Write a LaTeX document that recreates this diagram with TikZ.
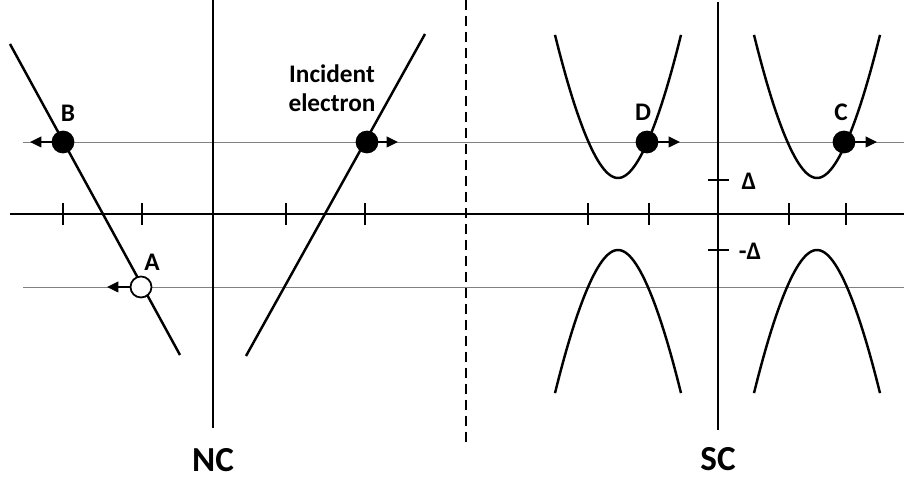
\documentclass[tikz,border=0pt]{standalone}
\usepackage{fontspec}
\setmainfont{Carlito}
\usetikzlibrary{arrows.meta, positioning}

\begin{document}
\begin{tikzpicture}[x=0.02cm, y=-0.02cm]
\tikzset{axis/.style={line width=1.6pt},
  band/.style={line width=1.4pt},
  level/.style={line width=0.5pt, gray},
  tick/.style={line width=1.2pt},
  dot/.style={circle, draw, fill=black, line width=1pt, minimum size=0.42cm, inner sep=0pt},
  hole/.style={dot, fill=white},
  move/.style={line width=1.2pt, -{Triangle[length=6.5pt,width=6pt]}},
  lbl/.style={font=\bfseries\fontsize{14.4}{16.4}\selectfont},
  big/.style={inner sep=0.5pt, font=\bfseries\fontsize{20}{24}\selectfont}}
\useasboundingbox (0,0) rectangle (904,479);
% energy levels and axes
\draw[level] (23,142) -- (904,142);
\draw[level] (23,287) -- (904,287);
\draw[axis] (10,214) -- (904,214);
\draw[axis] (213,0) -- (213,428);
\draw[axis] (718,2) -- (718,430);
\draw[line width=1.2pt, dash pattern=on 5.7pt off 3.4pt] (466,0) -- (466,445);
\foreach \t in {63,142,286,365,588,649,789,846}
  \draw[tick] (\t,203) -- (\t,225);
\draw[tick] (708,180) -- (729,180);
\draw[tick] (708,250) -- (729,250);
% NC bands
\draw[band] (10,44) -- (180,355);
\draw[band] (246,356) -- (425,34);
% SC bands
\foreach \c in {618,817} {
  \draw[band] plot[domain=-63:63, samples=60] ({\c+\x},{214-sqrt(1296+1.618*\x*\x)-0.023*\x*\x});
  \draw[band] plot[domain=-63:63, samples=60] ({\c+\x},{214+sqrt(1296+1.618*\x*\x)+0.023*\x*\x});
}
% particles
\node[dot] (B) at (63,142) {};
\node[hole] (A) at (141,287) {};
\node[dot] (inc) at (367,142) {};
\node[dot] (D) at (647,142) {};
\node[dot] (C) at (844,142) {};
\coordinate (Bto) at (30,142);
\coordinate (Ato) at (107,287);
\coordinate (incto) at (398,142);
\coordinate (Dto) at (680,142);
\coordinate (Cto) at (877,142);
\draw[move] (B) -- (Bto);
\draw[move] (A) -- (Ato);
\draw[move] (inc) -- (incto);
\draw[move] (D) -- (Dto);
\draw[move] (C) -- (Cto);
% labels
\node[lbl] (Blbl) at (68,113) {B};
\node[lbl] (Albl) at (152,262) {A};
\node[lbl] (Dlbl) at (643,112) {D};
\node[lbl] (Clbl) at (841,112) {C};
\node[lbl, align=center] (inclbl) at (332,88) {Incident\\electron};
\node[lbl] (gap) at (749,181) {Δ};
\node[lbl] (mgap) at (750,251) {-Δ};
\node[big] (NC) at (213,460) {NC};
\node[big] (SC) at (718,459) {SC};
\end{tikzpicture}
\end{document}
